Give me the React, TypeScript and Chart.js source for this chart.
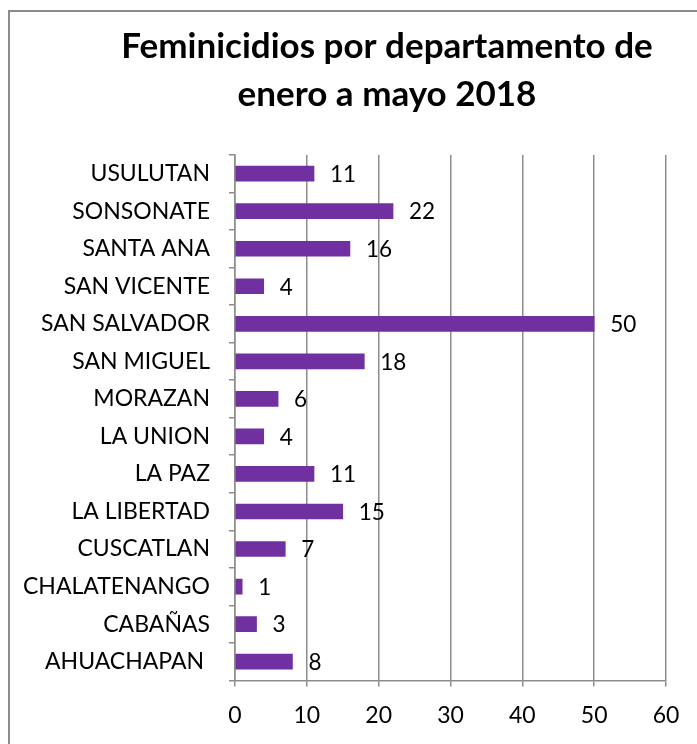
import React, { useEffect, useRef } from "react";
import { Chart, registerables } from "chart.js";

Chart.register(...registerables);

const categories = [
  "USULUTAN",
  "SONSONATE",
  "SANTA ANA",
  "SAN VICENTE",
  "SAN SALVADOR",
  "SAN MIGUEL",
  "MORAZAN",
  "LA UNION",
  "LA PAZ",
  "LA LIBERTAD",
  "CUSCATLAN",
  "CHALATENANGO",
  "CABAÑAS",
  "AHUACHAPAN ",
];
const values = [11, 22, 16, 4, 50, 18, 6, 4, 11, 15, 7, 1, 3, 8];
const titleLines = ["Feminicidios por departamento de", "enero a mayo 2018"];
const xMin = 0;
const xMax = 60;
const xStep = 10;

const FONT = "Lato, 'Open Sans', sans-serif";
const GRID = "#8c8c8c";

const valueLabels = {
  id: "valueLabels",
  afterDatasetsDraw(chart: any) {
    const ctx = chart.ctx;
    const meta = chart.getDatasetMeta(0);
    ctx.save();
    ctx.font = `22.5px ${FONT}`;
    ctx.fillStyle = "#000";
    ctx.textAlign = "left";
    ctx.textBaseline = "middle";
    meta.data.forEach((bar: any, i: number) => {
      ctx.fillText(String(values[i]), bar.x + 16, bar.y + 1);
    });
    ctx.restore();
  },
};

const shiftTitle = {
  id: "shiftTitle",
  afterLayout(chart: any) {
    const t = chart.titleBlock;
    if (t) {
      t.left = 77;
      t.right = 697;
      t.width = 620;
    }
  },
};

export default function App() {
  const ref = useRef<HTMLCanvasElement>(null);
  useEffect(() => {
    if (!ref.current) return;
    const chart = new Chart(ref.current, {
      type: "bar",
      data: {
        labels: categories,
        datasets: [
          {
            data: values,
            backgroundColor: "#7030A0",
            barThickness: 15,
          },
        ],
      },
      options: {
        indexAxis: "y",
        animation: false,
        responsive: false,
        maintainAspectRatio: false,
        layout: { padding: { left: 0, right: 31, top: 0, bottom: 0 } },
        plugins: {
          legend: { display: false },
          tooltip: { enabled: false },
          title: {
            display: true,
            text: titleLines,
            color: "#000",
            font: { family: FONT, size: 35, weight: "bold", lineHeight: 1.37 },
            padding: { top: 23, bottom: 36 },
          },
        },
        scales: {
          x: {
            min: xMin,
            max: xMax,
            ticks: {
              stepSize: xStep,
              color: "#000",
              font: { family: FONT, size: 23 },
              padding: 15,
            },
            grid: {
              color: GRID,
              lineWidth: 1.5,
              tickLength: 6,
              drawTicks: true,
            },
            border: { color: GRID, width: 1.5 },
          },
          y: {
            afterFit(scale: any) {
              scale.width = 235;
            },
            ticks: {
              color: "#000",
              font: { family: FONT, size: 23 },
              padding: 19,
            },
            grid: {
              drawOnChartArea: false,
              color: GRID,
              lineWidth: 1.5,
              tickLength: 6,
              offset: true,
            },
            border: { color: GRID, width: 1.5 },
          },
        },
      },
      plugins: [valueLabels, shiftTitle],
    });
    return () => chart.destroy();
  }, []);

  return (
    <div style={{ position: "fixed", left: 0, top: 0, width: 697, height: 744, background: "#fff" }}>
      <div
        style={{
          position: "absolute",
          left: 8,
          top: 10,
          width: 760,
          height: 800,
          border: "2px solid #8c8c8c",
          boxSizing: "border-box",
        }}
      />
      <canvas ref={ref} width={697} height={744} style={{ position: "absolute", left: 0, top: 0, display: "block" }} />
    </div>
  );
}
